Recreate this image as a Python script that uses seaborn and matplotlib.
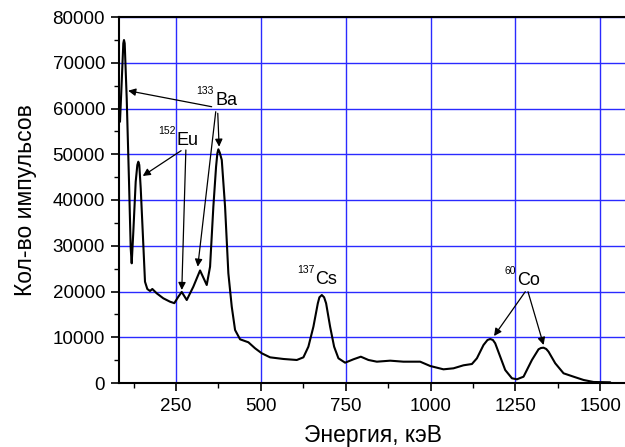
import matplotlib
matplotlib.use("Agg")
import matplotlib.pyplot as plt
from matplotlib.ticker import MultipleLocator
import pandas as pd
import seaborn as sns

# Gamma spectrum: energy (keV) and pulse counts
energy_kev = [84.9, 90.0, 94.7, 96.7, 98.8, 104.7, 111.5, 116.5, 119.4, 124.2, 131.2, 136.0, 138.9,
              141.8, 146.0, 151.9, 158.6, 165.4, 173.4, 180.2, 193.1, 212.6, 232.3, 245.0,
              256.8, 266.8, 281.6, 301.0, 320.8, 340.5, 350.3, 360.0, 368.0, 371.8, 374.7,
              378.9, 384.8, 394.5, 404.2, 414.2, 424.0, 438.7, 463.2, 483.0, 502.7, 527.1,
              566.4, 605.9, 625.3, 640.0, 654.8, 667.8, 672.5, 679.6, 686.3, 692.2, 704.0, 715.8,
              728.5, 748.2, 772.7, 794.5, 817.0, 841.7, 881.0, 920.0, 969.3, 998.8,
              1038.0, 1067.5, 1097.0, 1121.8, 1136.5, 1156.0, 1167.7, 1175.7, 1183.6, 1190.4,
              1205.2, 1219.9, 1239.7, 1254.4, 1273.9, 1298.6, 1318.1, 1325.2, 1332.8, 1340.8,
              1347.6, 1367.3, 1391.8, 1421.3, 1450.8, 1480.2, 1529.5]
counts = [57100, 65860, 74250, 74970, 74250, 62230, 44000, 29440, 26160, 33070, 44000, 47650, 48370,
          47650, 42560, 33070, 22140, 20550, 20110, 20550, 19600, 18510, 17770, 17450,
          18860, 19900, 18140, 21050, 24600, 21420, 25420, 38540, 47280, 50200, 51080,
          50340, 48740, 38540, 23980, 16680, 11580, 9550, 8900, 7580, 6490, 5610,
          5250, 5030, 5610, 7940, 12310, 17420, 18730, 19230, 18730, 17420, 12310, 7940,
          5400, 4440, 5180, 5750, 5030, 4660, 4880, 4660, 4660, 3720,
          2990, 3210, 3870, 4150, 5400, 8310, 9400, 9620, 9400, 8680,
          5750, 2840, 1030, 810, 1380, 5030, 7370, 7650, 7720, 7430,
          6840, 4310, 2120, 1380, 660, 220, 150]

x_ticks = [250, 500, 750, 1000, 1250, 1500]
y_ticks = [0, 10000, 20000, 30000, 40000, 50000, 60000, 70000, 80000]

isotopes = ["Ba", "Eu", "Cs", "Co"]
mass_numbers = ["133", "152", "137", "60"]

# label anchors (keV, counts) and arrows (start -> tip) for each isotope
label_xy = {"Ba": (365, 60770), "Eu": (252, 52020), "Cs": (660, 21640), "Co": (1254, 21420)}
arrows = {
    "Ba": [((355, 60390), (109, 63890)), ((367, 59300), (314, 25420)), ((373, 58950), (377, 51650))],
    "Eu": [((265, 50780), (152, 45250)), ((279, 50930), (267, 20330))],
    "Cs": [],
    "Co": [((1279, 19960), (1187, 10270)), ((1287, 19960), (1333, 8310))],
}

df = pd.DataFrame({"energy": energy_kev, "counts": counts})

sns.set_theme(style="ticks")
plt.rcParams["font.family"] = ["Liberation Sans", "DejaVu Sans"]
plt.rcParams["text.color"] = "black"
plt.rcParams["axes.labelcolor"] = "black"

fig = plt.figure(figsize=(6.25, 4.47), dpi=100)
ax = fig.add_axes([119 / 625, 1 - 383 / 447, 0.8124, 366 / 447])

for v in x_ticks:
    ax.axvline(v, color="#2a2aff", lw=1.0, zorder=0)
for v in y_ticks[1:]:
    ax.axhline(v, color="#2a2aff", lw=1.0, zorder=0)

sns.lineplot(data=df, x="energy", y="counts", ax=ax, color="black", lw=1.5,
             sort=False, zorder=3)

ax.set_xlim(82, 1578)
ax.set_ylim(0, 80000)
ax.set_xticks(x_ticks)
ax.set_yticks(y_ticks)
ax.xaxis.set_minor_locator(MultipleLocator(125))
ax.yaxis.set_minor_locator(MultipleLocator(5000))
ax.tick_params(which="major", direction="out", length=6, width=1.2, labelsize=13.5,
               colors="black", pad=4)
ax.tick_params(which="minor", direction="out", length=3.5, width=1.0, colors="black")
ax.tick_params(axis="x", which="major", pad=5)

for side in ("left", "bottom", "top"):
    ax.spines[side].set_linewidth(1.5)
    ax.spines[side].set_color("black")
ax.spines["right"].set_visible(False)

ax.set_xlabel("Энергия, кэВ", fontsize=16.5, va="center", color="black")
ax.xaxis.set_label_coords(0.5, -0.143)
ax.set_ylabel("Кол-во импульсов", fontsize=16.5, va="center", color="black")
ax.yaxis.set_label_coords(-0.184, 0.5)

for name, mass in zip(isotopes, mass_numbers):
    lx, ly = label_xy[name]
    ax.text(lx, ly, name, fontsize=13, ha="left", va="baseline", color="black", zorder=5)
    ax.text(lx - 3, ly + 2300, mass, fontsize=7.5, ha="right", va="baseline",
            color="black", zorder=5)
    for start, tip in arrows[name]:
        ax.annotate("", xy=tip, xytext=start, zorder=5,
                    arrowprops=dict(arrowstyle="-|>", color="black", lw=0.9,
                                    mutation_scale=11, shrinkA=0, shrinkB=0))

fig.savefig("out.png", dpi=100)
